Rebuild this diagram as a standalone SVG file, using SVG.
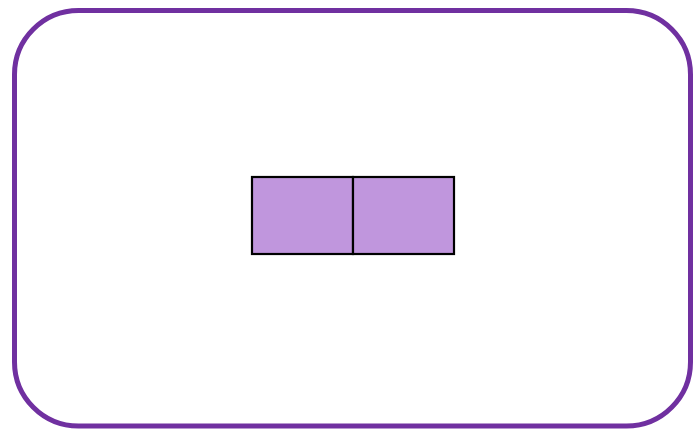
<svg xmlns="http://www.w3.org/2000/svg" width="693" height="429" viewBox="0 0 693 429">
<style>
.frame{fill:#ffffff;stroke:#7030A0;stroke-width:5}
.cell{fill:#C096DD;stroke:#000000;stroke-width:2.2}
</style>
<rect width="693" height="429" fill="#ffffff"/>
<g id="frame"><rect class="frame" x="14.5" y="10.5" width="676" height="415.5" rx="64" ry="64"/></g>
<g id="cell-left"><rect class="cell" x="252" y="177" width="101" height="77"/></g>
<g id="cell-right"><rect class="cell" x="353" y="177" width="101" height="77"/></g>
<g id="connectors"></g>
</svg>
